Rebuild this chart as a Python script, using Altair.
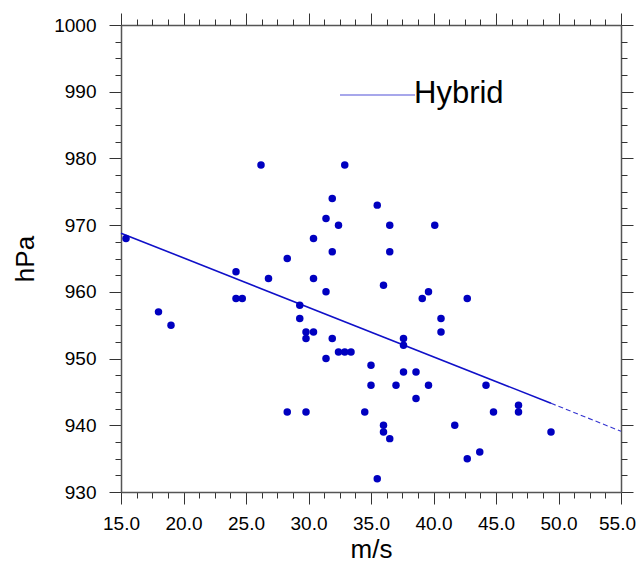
import altair as alt
import pandas as pd

# wind speed (m/s) and minimum pressure (hPa)
wind = [15.4, 18.0, 19.0, 24.2, 24.2, 24.7, 26.2, 26.8, 28.3, 28.3,
        29.3, 29.3, 29.8, 29.8, 30.4, 30.4, 30.4, 29.8, 31.4, 31.4,
        31.4, 31.9, 31.9, 31.9, 32.4, 32.4, 32.9, 33.4, 32.9, 34.5,
        35.0, 35.0, 35.5, 35.5, 36.0, 36.0, 36.0, 36.5, 36.5, 36.5,
        37.0, 37.6, 37.6, 37.6, 38.6, 38.6, 39.1, 39.6, 39.6, 40.1,
        40.6, 40.6, 41.7, 42.7, 42.7, 43.7, 44.2, 44.8, 46.8, 46.8,
        49.4]
pres = [968, 957, 955, 963, 959, 959, 979, 962, 965, 942,
        958, 956, 954, 953, 954, 962, 968, 942, 971, 960,
        950, 974, 966, 953, 970, 951, 951, 951, 979, 942,
        949, 946, 973, 932, 961, 940, 939, 970, 966, 938,
        946, 953, 952, 948, 948, 944, 959, 960, 946, 970,
        956, 954, 940, 959, 935, 936, 946, 942, 943, 942,
        939]

# fitted line: solid part and faint tail
fit_x = [15.0, 49.4, 55.0]
fit_y = [968.8, 943.3, 939.1]

x_major = [15, 20, 25, 30, 35, 40, 45, 50, 55]
x_minor = [16.25, 17.5, 18.75, 21.25, 22.5, 23.75, 26.25, 27.5, 28.75,
           31.25, 32.5, 33.75, 36.25, 37.5, 38.75, 41.25, 42.5, 43.75,
           46.25, 47.5, 48.75, 51.25, 52.5, 53.75]
y_major = [930, 940, 950, 960, 970, 980, 990, 1000]
y_minor = [932.5, 935, 937.5, 942.5, 945, 947.5, 952.5, 955, 957.5,
           962.5, 965, 967.5, 972.5, 975, 977.5, 982.5, 985, 987.5,
           992.5, 995, 997.5]

legend_label = "Hybrid"

pts = pd.DataFrame({"wind": wind, "pres": pres})
fit_solid = pd.DataFrame({"wind": fit_x[:2], "pres": fit_y[:2]})
fit_tail = pd.DataFrame({"wind": fit_x[1:], "pres": fit_y[1:]})

FONT = "Liberation Sans"
xs = alt.Scale(domain=[15, 55], nice=False, zero=False)
ys = alt.Scale(domain=[930, 1000], nice=False, zero=False)

TICK = "#333333"
DOM = "#555555"


def axis_layer(xaxis, yaxis):
    return alt.Chart(pts).mark_circle(opacity=0).encode(
        x=alt.X("wind:Q", scale=xs, axis=xaxis),
        y=alt.Y("pres:Q", scale=ys, axis=yaxis),
    )


major_bottom = alt.Axis(orient="bottom", values=x_major, format=".1f", title="m/s",
                        tickSize=12, tickColor=TICK, tickWidth=1, grid=False,
                        domain=True, domainColor=DOM, domainWidth=1.5,
                        labelFont=FONT, labelFontSize=19, labelColor="black",
                        labelPadding=10, labelFlush=False,
                        labelOffset={"condition": {"test": "datum.value == 55", "value": -4},
                                     "value": 0},
                        titleFont=FONT, titleFontSize=26, titleFontWeight="normal",
                        titleColor="black", titleX=250, titleY=57,
                        titleBaseline="middle")
major_left = alt.Axis(orient="left", values=y_major, format="d", title="hPa",
                      tickSize=12, tickColor=TICK, tickWidth=1, grid=False,
                      domain=True, domainColor=DOM, domainWidth=1.5,
                      labelFont=FONT, labelFontSize=19, labelColor="black",
                      labelPadding=13, labelFlush=False,
                      titleFont=FONT, titleFontSize=26, titleFontWeight="normal",
                      titleColor="black", titleX=-96, titleY=233.5,
                      titleBaseline="middle")


def plain(orient, vals, size, domain=False):
    return alt.Axis(orient=orient, values=vals, tickSize=size, tickColor=TICK,
                    tickWidth=1, labels=False, title=None, grid=False,
                    domain=domain, domainColor=DOM, domainWidth=1.5)


points = alt.Chart(pts).mark_circle(size=56, color="#0000c0", opacity=1).encode(
    x=alt.X("wind:Q", scale=xs, axis=major_bottom),
    y=alt.Y("pres:Q", scale=ys, axis=major_left),
)

line_solid = alt.Chart(fit_solid).mark_line(color="#1010c8", strokeWidth=1.6).encode(
    x=alt.X("wind:Q", scale=xs, axis=None),
    y=alt.Y("pres:Q", scale=ys, axis=None),
)
line_tail = alt.Chart(fit_tail).mark_line(color="#3535d0", strokeWidth=1.1,
                                          strokeDash=[5, 3]).encode(
    x=alt.X("wind:Q", scale=xs, axis=None),
    y=alt.Y("pres:Q", scale=ys, axis=None),
)

minor_bl = axis_layer(plain("bottom", x_minor, 6), plain("left", y_minor, 6))
major_tr = axis_layer(plain("top", x_major, 12, True), plain("right", y_major, 12, True))
minor_tr = axis_layer(plain("top", x_minor, 6), plain("right", y_minor, 6))

leg_df = pd.DataFrame({"label": [legend_label]})
leg_line = alt.Chart(leg_df).mark_rule(color="#5050d8", strokeWidth=1.2).encode(
    x=alt.value(219), x2=alt.value(294), y=alt.value(70))
leg_text = alt.Chart(leg_df).mark_text(align="left", baseline="alphabetic",
                                       font=FONT, fontSize=31, color="black").encode(
    x=alt.value(293), y=alt.value(78), text="label:N")

chart = alt.layer(
    minor_bl, major_tr, minor_tr, line_solid, line_tail, points, leg_line, leg_text
).resolve_axis(x="independent", y="independent").properties(
    width=500, height=467,
    autosize=alt.AutoSizeParams(type="none"),
    padding={"left": 113, "top": 17, "right": 15, "bottom": 72},
).configure_view(stroke=None).configure(background="white")

chart.save("out.html", embed_options={"renderer": "svg", "actions": False})
